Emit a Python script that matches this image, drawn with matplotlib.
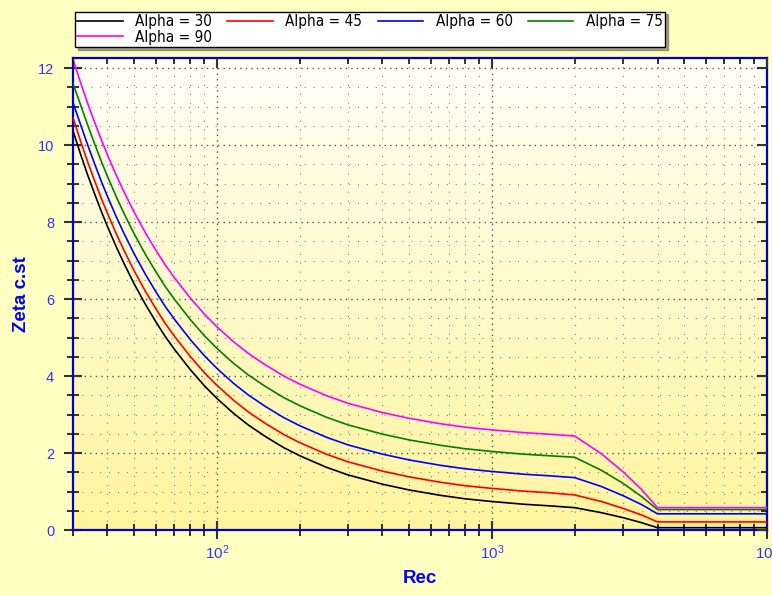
import numpy as np
import matplotlib
matplotlib.use("Agg")
import matplotlib.pyplot as plt
from matplotlib.ticker import MultipleLocator, LogLocator, NullFormatter

re_vals = [30, 32, 34, 36, 38, 40, 43, 46, 50, 55, 60, 65, 70, 80, 90, 100, 115, 130, 150, 175,
           200, 250, 300, 400, 500, 650, 800, 1000, 1300, 1600, 2000, 2500, 3000, 3500, 4000, 6000, 10000]

alpha30 = [10.37, 9.75, 9.20, 8.72, 8.28, 7.89, 7.37, 6.92, 6.40, 5.86, 5.41, 5.02, 4.70, 4.17, 3.75, 3.42,
           3.03, 2.73, 2.43, 2.14, 1.93, 1.63, 1.43, 1.19, 1.04, 0.90, 0.81, 0.74, 0.67, 0.63, 0.58,
           0.45, 0.32, 0.19, 0.06, 0.06, 0.06]
alpha45 = [10.71, 10.09, 9.54, 9.06, 8.62, 8.23, 7.71, 7.26, 6.74, 6.20, 5.75, 5.36, 5.04, 4.51, 4.09, 3.76,
           3.37, 3.07, 2.77, 2.48, 2.27, 1.97, 1.77, 1.53, 1.38, 1.24, 1.15, 1.08, 1.01, 0.97, 0.91,
           0.74, 0.56, 0.39, 0.21, 0.21, 0.21]
alpha60 = [11.10, 10.52, 9.98, 9.50, 9.06, 8.67, 8.15, 7.70, 7.18, 6.64, 6.19, 5.80, 5.48, 4.95, 4.53, 4.20,
           3.81, 3.51, 3.21, 2.92, 2.71, 2.41, 2.21, 1.97, 1.82, 1.68, 1.59, 1.52, 1.45, 1.41, 1.36,
           1.13, 0.89, 0.66, 0.42, 0.42, 0.42]
alpha75 = [11.60, 11.03, 10.50, 10.02, 9.58, 9.19, 8.67, 8.22, 7.70, 7.16, 6.71, 6.32, 6.00, 5.47, 5.05, 4.72,
           4.33, 4.03, 3.73, 3.44, 3.23, 2.93, 2.73, 2.49, 2.34, 2.20, 2.11, 2.04, 1.97, 1.93, 1.89,
           1.55, 1.21, 0.87, 0.53, 0.53, 0.53]
alpha90 = [12.23, 11.61, 11.06, 10.58, 10.14, 9.75, 9.23, 8.78, 8.26, 7.72, 7.27, 6.88, 6.56, 6.03, 5.61, 5.28,
           4.89, 4.59, 4.29, 4.00, 3.79, 3.49, 3.29, 3.05, 2.90, 2.76, 2.67, 2.60, 2.53, 2.49, 2.44,
           1.98, 1.51, 1.05, 0.58, 0.58, 0.58]

series = [("Alpha = 30", alpha30, "#000000"),
          ("Alpha = 45", alpha45, "#ff0000"),
          ("Alpha = 60", alpha60, "#0000ff"),
          ("Alpha = 75", alpha75, "#008000"),
          ("Alpha = 90", alpha90, "#ff00ff")]

plt.rcParams['font.family'] = ['Liberation Sans', 'DejaVu Sans']
plt.rcParams['mathtext.fontset'] = 'custom'
plt.rcParams['mathtext.rm'] = 'Liberation Sans'
plt.rcParams['mathtext.it'] = 'Liberation Sans'

bg = "#ffffc2"
fig = plt.figure(figsize=(7.72, 5.96), dpi=100, facecolor=bg)
ax = fig.add_axes([73/772, 66/596, 694/772, 472/596])
ax.set_facecolor("white")

# vertical gradient background (white at top -> yellow at bottom)
grad = np.linspace(0, 1, 256).reshape(-1, 1)
top = np.array([1.0, 1.0, 0.97])
bot = np.array([1.0, 0.96, 0.62])
img = top[None, None, :] * (1 - grad[:, :, None]) + bot[None, None, :] * grad[:, :, None]
ax.imshow(img, extent=[0, 1, 0, 1], transform=ax.transAxes, aspect='auto', zorder=0)

handles = {}
for name, vals, col in series:
    h, = ax.plot(re_vals, vals, color=col, lw=1.2, label=name, zorder=3)
    handles[name] = h

ax.set_xscale('log')
xlim = (30, 10000)
ylim = (0, 12.26)
ax.set_xlim(*xlim)
ax.set_ylim(*ylim)

ax.yaxis.set_major_locator(MultipleLocator(2))
ax.yaxis.set_minor_locator(MultipleLocator(0.5))
ax.xaxis.set_major_locator(LogLocator(base=10, numticks=10))
ax.xaxis.set_minor_locator(LogLocator(base=10, subs=np.arange(2, 10), numticks=20))
ax.xaxis.set_minor_formatter(NullFormatter())

ax.grid(which='major', color='#555555', linestyle=(0, (1, 3)), lw=1.0, zorder=1)
ax.grid(which='minor', color='#888888', linestyle=(0, (1, 7)), lw=0.8, zorder=1)

for s in ax.spines.values():
    s.set_color('#0000cc')
    s.set_linewidth(1.6)

ax.tick_params(which='major', direction='inout', length=13, width=1.5, color='#333333',
               labelcolor='#3333ff', labelsize=10.5, top=False, right=False)
ax.tick_params(which='minor', direction='inout', length=8, width=1.2, color='#111111',
               top=False, right=False)
ax.tick_params(axis='x', which='major', pad=3, labelsize=11)
ax.tick_params(axis='y', which='major', pad=7)

# inward ticks on top and right
axt = ax.twiny()
axt.set_xscale('log')
axt.set_xlim(*xlim)
axt.xaxis.set_major_locator(LogLocator(base=10, numticks=10))
axt.xaxis.set_minor_locator(LogLocator(base=10, subs=np.arange(2, 10), numticks=20))
axt.tick_params(which='major', direction='in', length=7, width=1.5, color='#333333', labeltop=False)
axt.tick_params(which='minor', direction='in', length=4, width=1.2, color='#111111')
axr = ax.twinx()
axr.set_ylim(*ylim)
axr.yaxis.set_major_locator(MultipleLocator(2))
axr.yaxis.set_minor_locator(MultipleLocator(0.5))
axr.tick_params(which='major', direction='in', length=7, width=1.5, color='#333333', labelright=False)
axr.tick_params(which='minor', direction='in', length=4, width=1.2, color='#111111')
for a in (axt, axr):
    for s in a.spines.values():
        s.set_visible(False)

ax.set_xlabel("Rec", color='#0000ff', fontsize=13.5, fontweight='bold', labelpad=6)
ax.set_ylabel("Zeta c.st", color='#0000ff', fontsize=13.5, fontweight='bold', labelpad=6)

order = ["Alpha = 30", "Alpha = 90", "Alpha = 45", "Alpha = 60", "Alpha = 75"]
leg = fig.legend([handles[n] for n in order], order, loc='lower left',
                 bbox_to_anchor=(75/772, 549/596, 590/772, 39/596),
                 mode='expand', ncol=4,
                 frameon=True, fancybox=False, shadow=True, handlelength=3.0,
                 borderaxespad=0, borderpad=0.15, labelspacing=0.05, columnspacing=1.0,
                 prop={'family': ['Liberation Sans Narrow', 'DejaVu Sans'], 'stretch': 'condensed', 'size': 11})
leg.get_frame().set_edgecolor('#000000')
leg.get_frame().set_linewidth(1.0)

fig.savefig("out.png", dpi=100, facecolor=bg)
